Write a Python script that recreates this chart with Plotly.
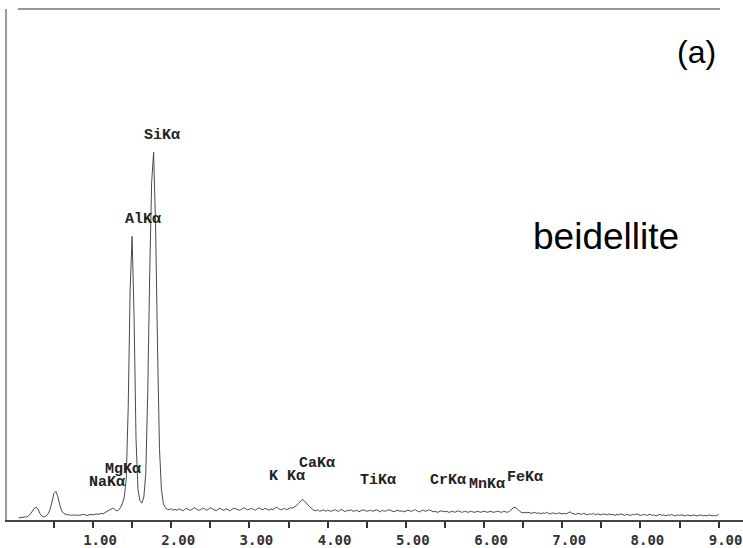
import plotly.graph_objects as go

# EDS spectrum sampled every 0.025 keV starting at 0.05 keV
energy_start = 0.05
energy_step = 0.025
counts = [
    0.4,0.5,0.5,0.6,0.6,0.8,1.2,1.8,2.3,2.5,2.0,1.2,0.7,0.6,0.8,1.2,2.0,3.5,5.2,5.6,
    4.6,3.0,1.8,1.3,1.1,1.0,1.0,0.9,1.0,0.9,1.0,0.9,1.0,1.1,1.0,0.9,1.0,1.1,1.0,1.1,
    1.2,1.1,1.3,1.2,1.4,1.6,1.8,2.0,2.3,2.1,1.8,1.9,2.4,3.2,4.5,8,22,45,55.5,40,
    16,6,3.8,3.3,4.5,9,25,48,66,72,58,34,14,6,3.2,2.4,2.1,2.0,2.2,1.9,
    2.1,1.9,2.2,2.0,1.8,2.1,2.3,2.0,1.9,2.2,2.4,2.1,1.9,2.0,2.3,2.2,1.9,2.1,2.4,2.2,
    2.0,1.8,2.1,2.3,2.0,1.9,2.2,2.0,1.8,2.1,2.3,2.2,2.0,1.9,2.1,2.4,2.2,2.0,2.1,2.3,
    2.1,1.9,2.2,2.4,2.1,2.0,2.3,2.1,1.9,2.2,2.0,2.3,2.5,2.2,2.0,2.1,2.3,2.0,2.2,2.4,
    2.3,2.5,2.8,3.2,3.6,4.0,3.8,3.3,2.8,2.5,2.2,1.9,1.8,2.0,1.7,1.8,2.0,1.7,1.9,1.8,
    1.7,1.9,2.0,1.7,1.8,2.1,1.8,1.6,1.9,1.8,2.0,1.7,1.8,1.9,1.6,1.8,2.0,1.9,1.7,1.8,
    1.9,1.7,1.8,2.0,1.8,1.6,1.9,1.7,1.8,2.0,1.9,1.7,1.6,1.8,1.9,1.7,1.8,1.6,1.7,1.9,
    1.8,1.7,1.9,2.0,1.7,1.6,1.8,1.9,1.7,1.8,2.0,1.8,1.6,1.7,1.5,1.6,1.8,1.7,1.6,1.7,
    1.5,1.6,1.7,1.5,1.6,1.8,1.6,1.5,1.7,1.6,1.5,1.7,1.6,1.5,1.6,1.7,1.5,1.6,1.7,1.6,
    1.5,1.7,1.6,1.5,1.6,1.7,1.6,1.5,1.7,1.6,1.5,1.7,2.0,2.4,2.5,2.2,1.8,1.5,1.4,1.5,
    1.4,1.5,1.3,1.4,1.5,1.3,1.4,1.2,1.4,1.3,1.5,1.3,1.2,1.4,1.3,1.2,1.4,1.3,1.2,1.3,
    1.2,1.4,1.6,1.3,1.2,1.1,1.3,1.2,1.1,1.3,1.2,1.0,1.2,1.1,1.3,1.0,1.2,1.1,1.0,1.2,
    1.1,1.0,1.2,1.0,1.1,0.9,1.1,1.0,1.2,1.0,0.9,1.1,1.0,0.9,1.1,1.0,1.2,1.0,0.9,1.0,
    1.1,0.9,1.0,1.1,0.9,1.0,0.8,1.0,1.1,0.9,1.0,0.8,1.0,0.9,1.1,0.9,0.8,1.0,0.9,1.0,
    0.9,0.8,1.0,0.9,0.8,1.0,0.9,0.8,0.9,1.0,0.8,0.9,0.8,1.0,0.9,0.8,0.9,0.8,1.2,
]
energy = [round(energy_start + i * energy_step, 3) for i in range(len(counts))]

# peak labels: text, energy position (keV), height
peak_labels = ["SiKα", "AlKα", "MgKα", "NaKα", "K Kα", "CaKα", "TiKα", "CrKα", "MnKα", "FeKα"]
peak_label_x = [1.88, 1.64, 1.38, 1.18, 3.48, 3.86, 4.65, 5.54, 6.04, 6.52]
peak_label_y = [75.2, 58.9, 9.9, 7.3, 8.6, 11.0, 7.8, 7.8, 7.0, 8.4]

tick_vals = [0.5, 1, 1.5, 2, 2.5, 3, 3.5, 4, 4.5, 5, 5.5, 6, 6.5, 7, 7.5, 8, 8.5, 9]
tick_text = ["", "<b>1.00</b>", "", "<b>2.00</b>", "", "<b>3.00</b>", "", "<b>4.00</b>", "",
             "<b>5.00</b>", "", "<b>6.00</b>", "", "<b>7.00</b>", "", "<b>8.00</b>", "",
             "<b>9.00</b>"]

fig = go.Figure()
fig.add_trace(go.Scatter(x=energy, y=counts, mode="lines",
                         line=dict(color="#4a4a4a", width=1), hoverinfo="skip"))

annotations = []
for t, ax_, ay_ in zip(peak_labels, peak_label_x, peak_label_y):
    annotations.append(dict(x=ax_, y=ay_, xref="x", yref="y", text="<b>" + t + "</b>",
                            showarrow=False,
                            font=dict(family="Liberation Mono", size=15, color="#222222"),
                            xanchor="center", yanchor="middle"))
annotations.append(dict(x=7.56, y=55.4, xref="x", yref="y", text="beidellite", showarrow=False,
                        font=dict(family="Liberation Sans", size=37, color="#000000"),
                        xanchor="center", yanchor="middle"))
annotations.append(dict(x=8.72, y=91.6, xref="x", yref="y", text="(a)", showarrow=False,
                        font=dict(family="Liberation Sans", size=32, color="#000000"),
                        xanchor="center", yanchor="middle"))

fig.update_layout(
    width=743, height=548,
    margin=dict(l=7, r=0, t=9, b=26),
    paper_bgcolor="white", plot_bgcolor="white",
    showlegend=False,
    annotations=annotations,
    xaxis=dict(range=[-0.0997, 9.312], showgrid=False, zeroline=False,
               showline=True, linecolor="#444444", linewidth=2,
               tickvals=tick_vals, ticktext=tick_text,
               ticks="outside", ticklen=6, tickwidth=2, tickcolor="#333333",
               ticklabelshift=7,
               tickfont=dict(family="DejaVu Sans Mono", size=14, color="#333333")),
    yaxis=dict(range=[0, 100], showgrid=False, zeroline=False,
               showline=True, linecolor="#999999", linewidth=2,
               showticklabels=False, ticks=""),
    shapes=[dict(type="line", xref="paper", yref="paper",
                 x0=(18 - 7) / 736, x1=(720 - 7) / 736, y0=1, y1=1,
                 line=dict(color="#999999", width=2))],
)

fig.write_html("out.html")
